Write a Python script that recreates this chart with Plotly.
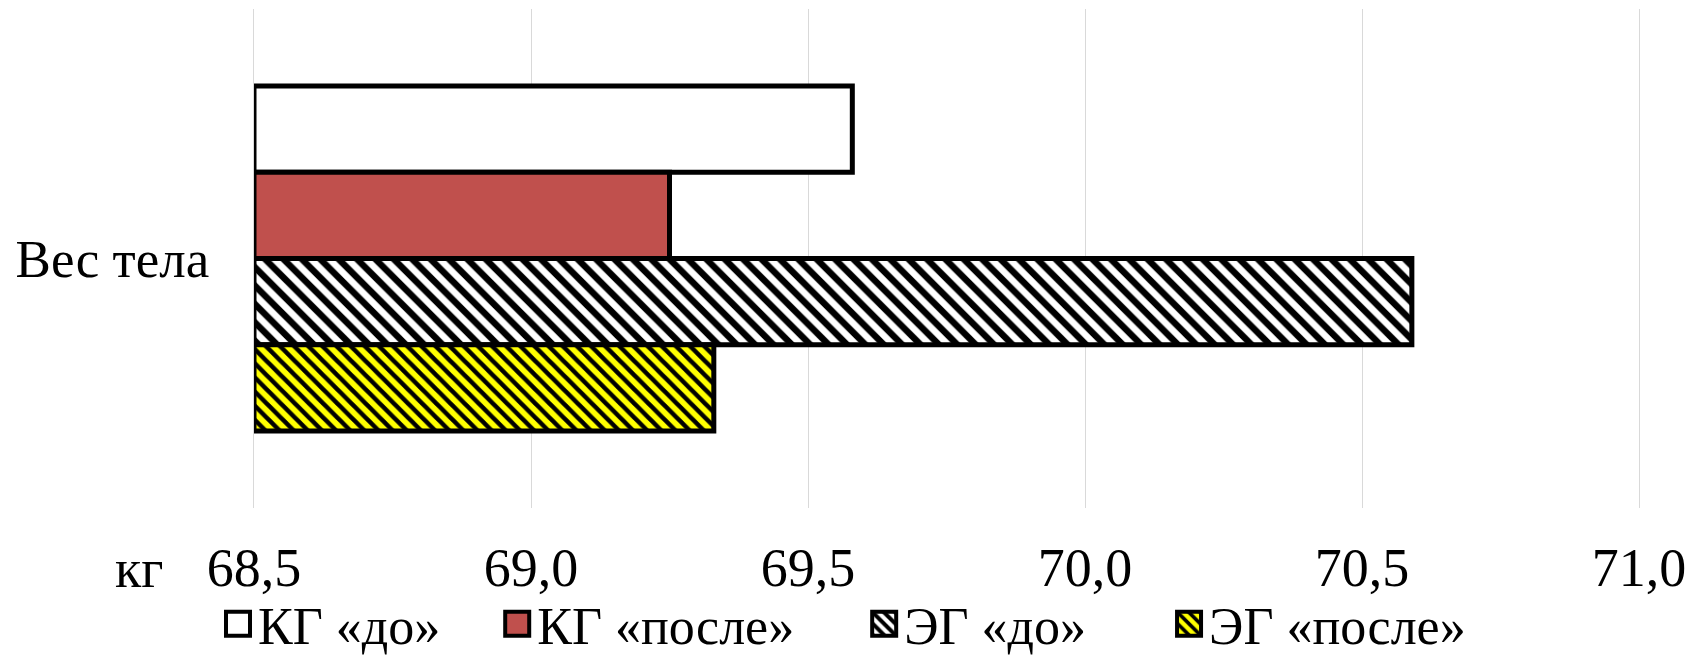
import plotly.graph_objects as go

category = ["Вес тела"]
series_names = ["КГ «до»", "КГ «после»", "ЭГ «до»", "ЭГ «после»"]
values = [69.58, 69.25, 70.59, 69.33]
x_ticks = [68.5, 69.0, 69.5, 70.0, 70.5, 71.0]
axis_unit = "кг"

styles = [
    dict(color="#FFFFFF"),
    dict(color="#C0504D"),
    dict(color="#FFFFFF", pattern=dict(shape="\\", bgcolor="#FFFFFF", fgcolor="#000000",
                                       fgopacity=1, size=13, solidity=0.5)),
    dict(color="#FFFF00", pattern=dict(shape="\\", bgcolor="#FFFF00", fgcolor="#000000",
                                       fgopacity=1, size=10, solidity=0.45)),
]
legend_pad = [4, 5, 6, 0]  # trailing no-break spaces to mimic legend spacing

FONT = "Liberation Serif, Times New Roman, serif"
base = x_ticks[0]

fig = go.Figure()
for name, v, st, pad in zip(series_names, values, styles, legend_pad):
    marker = dict(line=dict(color="#000000", width=5), **st)
    fig.add_trace(go.Bar(y=category, x=[v - base], base=base, name=name + "\u00a0" * pad,
                         orientation="h", marker=marker))

W, H = 1704, 656
L, R, T, B = 254, 65, 9, 148
pw, ph = W - L - R, H - T - B

fig.update_layout(
    width=W, height=H,
    margin=dict(l=L, r=R, t=T, b=B, pad=0, autoexpand=False),
    paper_bgcolor="white", plot_bgcolor="white",
    barmode="group", bargap=0.309, bargroupgap=0,
    separators=", ",
    font=dict(family=FONT, size=52, color="#000000"),
    showlegend=True,
    legend=dict(orientation="h", x=(218 - L) / pw, xanchor="left",
                y=(T + ph - 624) / ph, yanchor="middle",
                font=dict(family=FONT, size=52, color="#000000"),
                bgcolor="rgba(0,0,0,0)", traceorder="normal"),
    xaxis=dict(range=[x_ticks[0], x_ticks[-1]], tickvals=x_ticks, tickformat=".1f",
               showgrid=True, gridcolor="#D9D9D9", gridwidth=1.3, zeroline=False,
               showline=False, ticks="", ticklabelstandoff=23, automargin=False,
               layer="below traces",
               tickfont=dict(family=FONT, size=54, color="#000000")),
    yaxis=dict(autorange="reversed", showgrid=False, ticks="",
               showline=True, linecolor="#D9D9D9", linewidth=1.3, mirror=True,
               layer="below traces",
               ticklabelstandoff=33, automargin=False,
               tickfont=dict(family=FONT, size=53, color="#000000")),
    annotations=[dict(text=axis_unit, xref="paper", yref="paper",
                      x=(139 - L) / pw, y=(T + ph - 569) / ph,
                      xanchor="center", yanchor="middle", showarrow=False,
                      font=dict(family=FONT, size=54, color="#000000"))],
)

post = """
document.body.style.margin = '0';
var gd = document.getElementById('{plot_id}');
function fixLegend(){
  var ps = gd.querySelectorAll('.legendpoints path');
  ps.forEach(function(p){
    p.setAttribute('d','M12,12H-12V-12H12Z');
    p.setAttribute('transform','translate(20,0)');
    p.style.strokeWidth = '4px';
  });
}
fixLegend();
setTimeout(fixLegend, 100);
setTimeout(fixLegend, 500);
if (gd.on) { gd.on('plotly_afterplot', fixLegend); }
"""

fig.write_html("out.html", post_script=post, config={"displayModeBar": False})
